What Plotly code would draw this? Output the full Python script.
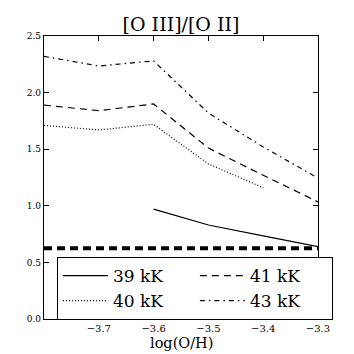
import plotly.graph_objects as go

logOH = [-3.8, -3.7, -3.6, -3.5, -3.4, -3.3]
labels = ["39 kK", "41 kK", "40 kK", "43 kK"]
r39 = [None, None, 0.97, 0.83, 0.735, 0.64]
r40 = [1.71, 1.67, 1.72, 1.37, 1.16, None]
r41 = [1.89, 1.84, 1.90, 1.51, 1.27, 1.035]
r43 = [2.32, 2.235, 2.28, 1.82, 1.52, 1.245]
obs_x = [-3.8, -3.3]
obs_y = [0.625, 0.625]

series = {"39 kK": r39, "40 kK": r40, "41 kK": r41, "43 kK": r43}
dashes = {"39 kK": "solid", "40 kK": "1px,2px", "41 kK": "7px,5px", "43 kK": "5px,4px,1.5px,4px"}

font = "DejaVu Serif"
fig = go.Figure()
for name in labels:
    fig.add_trace(go.Scatter(x=logOH, y=series[name], mode="lines", name=name,
                             line=dict(color="black", width=1.2, dash=dashes[name])))
fig.add_trace(go.Scatter(x=obs_x, y=obs_y, mode="lines", showlegend=False,
                         line=dict(color="black", width=4, dash="8px,5px")))

axis_common = dict(showline=True, linecolor="black", linewidth=1.2, mirror="allticks",
                   ticks="inside", ticklen=5, tickcolor="black", showgrid=False, zeroline=False,
                   automargin=False)
fig.update_layout(
    width=354, height=354,
    margin=dict(l=36, r=44, t=28, b=43),
    paper_bgcolor="white", plot_bgcolor="white",
    title=dict(text="[O III]/[O II]", x=0.5, xref="paper", xanchor="center",
               y=0.955, yanchor="middle",
               font=dict(family=font, size=19, color="black")),
    xaxis=dict(range=[-3.8, -3.3], tickvals=[-3.7, -3.6, -3.5, -3.4, -3.3], tickformat=".1f",
               tickfont=dict(family=font, size=10, color="black"), **axis_common),
    yaxis=dict(range=[0, 2.5], tickvals=[0, 0.5, 1.0, 1.5, 2.0, 2.5], tickformat=".1f",
               tickfont=dict(family=font, size=9, color="black"), **axis_common),
    legend=dict(orientation="h", x=0.047, y=0.219, xanchor="left", yanchor="top",
                entrywidth=77, entrywidthmode="pixels", bordercolor="black", borderwidth=1,
                bgcolor="white", font=dict(family=font, size=17, color="black"),
                itemwidth=45, tracegroupgap=0),
    showlegend=True,
    annotations=[dict(text="log(O/H)", xref="paper", yref="paper", x=0.5, y=-0.085,
                      xanchor="center", yanchor="middle", showarrow=False,
                      font=dict(family=font, size=14.5, color="black"))],
)
fig.write_html("out.html")
